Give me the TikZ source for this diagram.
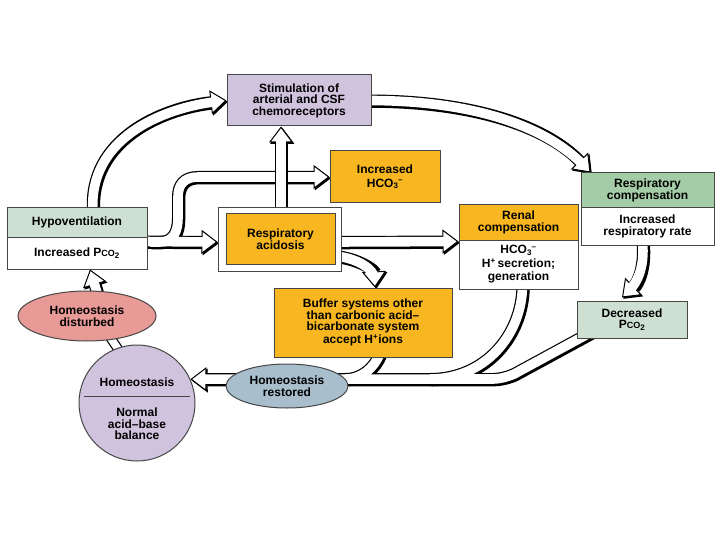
\documentclass[tikz,border=0pt]{standalone}
\usepackage{fontspec}
\setmainfont{Liberation Sans}
\usetikzlibrary{arrows.meta,shapes.geometric}
\pgfdeclarelayer{bg}
\pgfsetlayers{bg,main}
\definecolor{cpurple}{RGB}{207,195,222}
\definecolor{corange}{RGB}{248,183,32}
\definecolor{clgreen}{RGB}{205,224,210}
\definecolor{cgreen}{RGB}{164,204,166}
\definecolor{cpink}{RGB}{232,154,150}
\definecolor{cblue}{RGB}{168,190,204}
\definecolor{cborder}{RGB}{70,70,70}
\newcommand\hcoiii{HCO\textsubscript{3}\kern-0.3pt\textsuperscript{–}}
\tikzset{
 shaftS/.style={black,line width=12pt,transform canvas={xshift=1.3pt,yshift=-1.3pt}},
 shaftB/.style={black,line width=12pt},
 shaftW/.style={white,line width=9.6pt},
 tipS/.style={-{Triangle[length=16pt,width=24pt,line width=1pt,fill=black]}},
 tipB/.style={-{Triangle[length=16pt,width=24pt,line width=1pt,fill=white]}},
 tipW/.style={shorten >=9pt},
}
\newcommand\hollow[2][]{%
 \draw[shaftS,tipS,#1] #2;
 \draw[shaftB,tipB,#1] #2;
 \draw[shaftW,tipW,#1] #2;}
\begin{document}
\begin{tikzpicture}[x=1pt,y=-1pt,
  txt/.style={font=\fontsize{12}{11.5}\selectfont\bfseries, align=center, text=black},
  box/.style={txt, draw=cborder, line width=1pt, inner sep=0pt},
  loose/.style={font=\fontsize{12}{13.5}\selectfont\bfseries}]
\useasboundingbox (0,0) rectangle (720,540);
% boxes
\node[box,fill=cpurple,minimum width=144pt,minimum height=51pt] (stim) at (299,100.5) {Stimulation of\\arterial and CSF\\chemoreceptors};
\node[box,loose,fill=corange,minimum width=110pt,minimum height=52pt] (hco3) at (385,177) {Increased\\\hcoiii};
\node[box,fill=clgreen,minimum width=140pt,minimum height=29pt] (hypotop) at (77,222.5) {Hypoventilation};
\node[box,fill=white,minimum width=140pt,minimum height=32pt] (hypobot) at (77,253) {Increased P{\fontsize{9}{9}\selectfont CO}\textsubscript{2}};
\node[box,fill=white,minimum width=123pt,minimum height=63pt] (racid) at (279.5,239.5) {};
\node[box,fill=corange,minimum width=109pt,minimum height=50pt] (racidin) at (280.5,239) {Respiratory\\acidosis};
\node[box,fill=corange,minimum width=119pt,minimum height=35pt] (renaltop) at (518.5,222.5) {Renal\\compensation};
\node[box,loose,fill=white,minimum width=119pt,minimum height=49pt] (renalbot) at (518.5,264.5) {\hcoiii\\H\textsuperscript{+}\,secretion;\\generation};
\node[box,fill=cgreen,minimum width=133pt,minimum height=35pt] (rcomptop) at (647.5,190.5) {Respiratory\\compensation};
\node[box,fill=white,minimum width=133pt,minimum height=37pt] (rcompbot) at (647.5,226.5) {Increased\\respiratory rate};
\node[box,fill=corange,minimum width=178pt,minimum height=69pt] (buffer) at (363,322.5) {Buffer systems other\\than carbonic acid–\\bicarbonate system\\accept H\textsuperscript{+}ions};
\node[box,fill=clgreen,minimum width=110pt,minimum height=37pt] (decP) at (632,319.5) {Decreased\\P{\fontsize{9}{9}\selectfont CO}\textsubscript{2}};
% ellipses and circle
\node[box,ellipse,fill=cpink,minimum width=138pt,minimum height=50pt] (dist) at (87,316) {Homeostasis\\disturbed};
\node[box,ellipse,fill=cblue,minimum width=122pt,minimum height=44pt] (rest) at (287,386) {Homeostasis\\restored};
\node[box,circle,fill=cpurple,minimum size=116pt] (circ) at (137,403) {};
\node[txt] (circt) at (137,382) {Homeostasis};
\draw[cborder,line width=0.8pt] (84,396) -- (190,396);
\node[txt] (circb) at (137,424) {Normal\\acid–base\\balance};
% coordinates
\coordinate (a3s) at ([xshift=1.5pt,yshift=-4pt]racid.north);
\coordinate (a3e) at (a3s |- stim.south);
\begin{pgfonlayer}{bg}
\fill[white] (0,0) rectangle (720,540);
% A4 + A5 (merged)
\def\pathA{([xshift=-5pt,yshift=-5pt]hypobot.north east) -- ([yshift=-2.5pt]racid.west)}
\def\pathB{(150,242) -- (160,242) .. controls (173,242) and (178,232) .. (178,218) -- (178,197) .. controls (178,185) and (184,177) .. (198,177) -- (hco3.west)}
\draw[shaftS,tipS] \pathA; \draw[shaftS,tipS] \pathB;
\draw[shaftB,tipB] \pathA; \draw[shaftB,tipB] \pathB;
\draw[shaftW,tipW] \pathA; \draw[shaftW,tipW] \pathB;
% A1
\hollow{([xshift=16pt,yshift=-4pt]hypotop.north) .. controls (88,140) and (160,108) .. (stim.west)}
% A2
\hollow{([xshift=-6pt]stim.east) .. controls (470,100) and (545,125) .. ([xshift=-57pt]rcomptop.north)}
% A3
\hollow{(a3s) -- (a3e)}
% A6
\hollow{([xshift=-5pt,yshift=-2.5pt]racid.east) -- ([yshift=-2pt]renalbot.north west)}
% A7
\hollow{(336,256) .. controls (360,259) and (374,270) .. ([xshift=12pt]buffer.north)}
% A8
\hollow{([xshift=-5pt,yshift=4pt]rcompbot.south) .. controls (645,268) and (637,283) .. ([xshift=-10pt,yshift=3pt]decP.north)}
% A9 group
\def\pathM{([xshift=14pt,yshift=6pt]decP.south west) -- (505,379) -- (circ.24)}
\def\pathR{([xshift=4pt,yshift=4pt]renalbot.south) .. controls (522,335) and (485,379) .. (430,379)}
\def\pathF{([xshift=17pt,yshift=4pt]buffer.south) .. controls (374,368) and (362,379) .. (345,379)}
\draw[shaftS,tipS,rounded corners=12pt] \pathM; \draw[shaftS] \pathR; \draw[shaftS] \pathF;
\draw[shaftB,tipB,rounded corners=12pt] \pathM; \draw[shaftB] \pathR; \draw[shaftB] \pathF;
\draw[shaftW,tipW,rounded corners=12pt] \pathM; \draw[shaftW] \pathR; \draw[shaftW] \pathF;
% A10 stub
\coordinate (a10s) at (120,352);
\coordinate (a10e) at (104,328);
\draw[shaftB,line width=10pt] (a10s) -- (a10e);
\draw[shaftW,line width=7.6pt] (a10s) -- (a10e);
% A11
\hollow{([xshift=13pt,yshift=-12pt]dist.north) -- ([xshift=13pt]hypobot.south)}
\end{pgfonlayer}
\end{tikzpicture}
\end{document}
